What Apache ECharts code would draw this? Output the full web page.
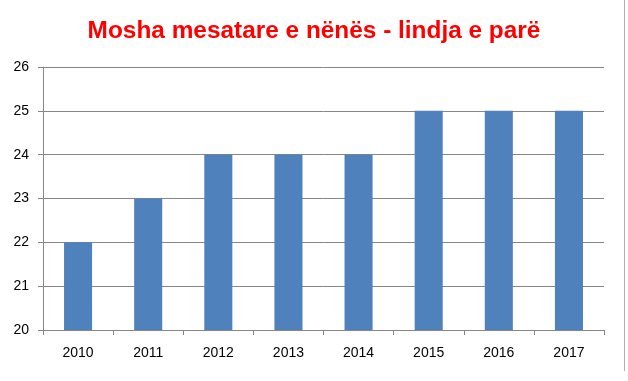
<!DOCTYPE html>
<html><head><meta charset="utf-8">
<script src="https://cdn.jsdelivr.net/npm/echarts@6/dist/echarts.min.js"></script>
<style>html,body{margin:0;padding:0;background:#fff}#c{width:628px;height:381px}</style>
</head><body><div id="c"></div>
<script>
var categories = ['2010','2011','2012','2013','2014','2015','2016','2017'];
var values = [22, 23, 24, 24, 24, 25, 25, 25];
var titleText = 'Mosha mesatare e nënës - lindja e parë';
var chart = echarts.init(document.getElementById('c'));
chart.setOption({
  animation: false,
  title: {text: titleText, left: 'center', top: 14,
    textStyle: {color: '#ff0000', fontWeight: 'bold', fontSize: 24.4, fontFamily: 'Liberation Sans'}},
  grid: {left: 43, right: 24, top: 67, bottom: 51, containLabel: false},
  xAxis: {type: 'category', data: categories,
    axisLine: {lineStyle: {color: '#868686'}},
    axisTick: {show: true, length: 5, lineStyle: {color: '#868686'}},
    axisLabel: {color: '#000', fontSize: 14, fontFamily: 'Liberation Sans', margin: 16}},
  yAxis: {type: 'value', min: 20, max: 26, interval: 1,
    axisLine: {show: true, lineStyle: {color: '#868686'}},
    axisTick: {show: true, length: 5, lineStyle: {color: '#868686'}},
    splitLine: {lineStyle: {color: '#868686'}},
    axisLabel: {color: '#000', fontSize: 14, fontFamily: 'Liberation Sans', margin: 14}},
  series: [{type: 'bar', data: values, barWidth: '40%', itemStyle: {color: '#4f81bd'}}],
  graphic: [{type: 'line', shape: {x1: 624.5, y1: 0, x2: 624.5, y2: 371}, style: {stroke: '#b0b0b0', lineWidth: 1}}]
});
</script></body></html>
